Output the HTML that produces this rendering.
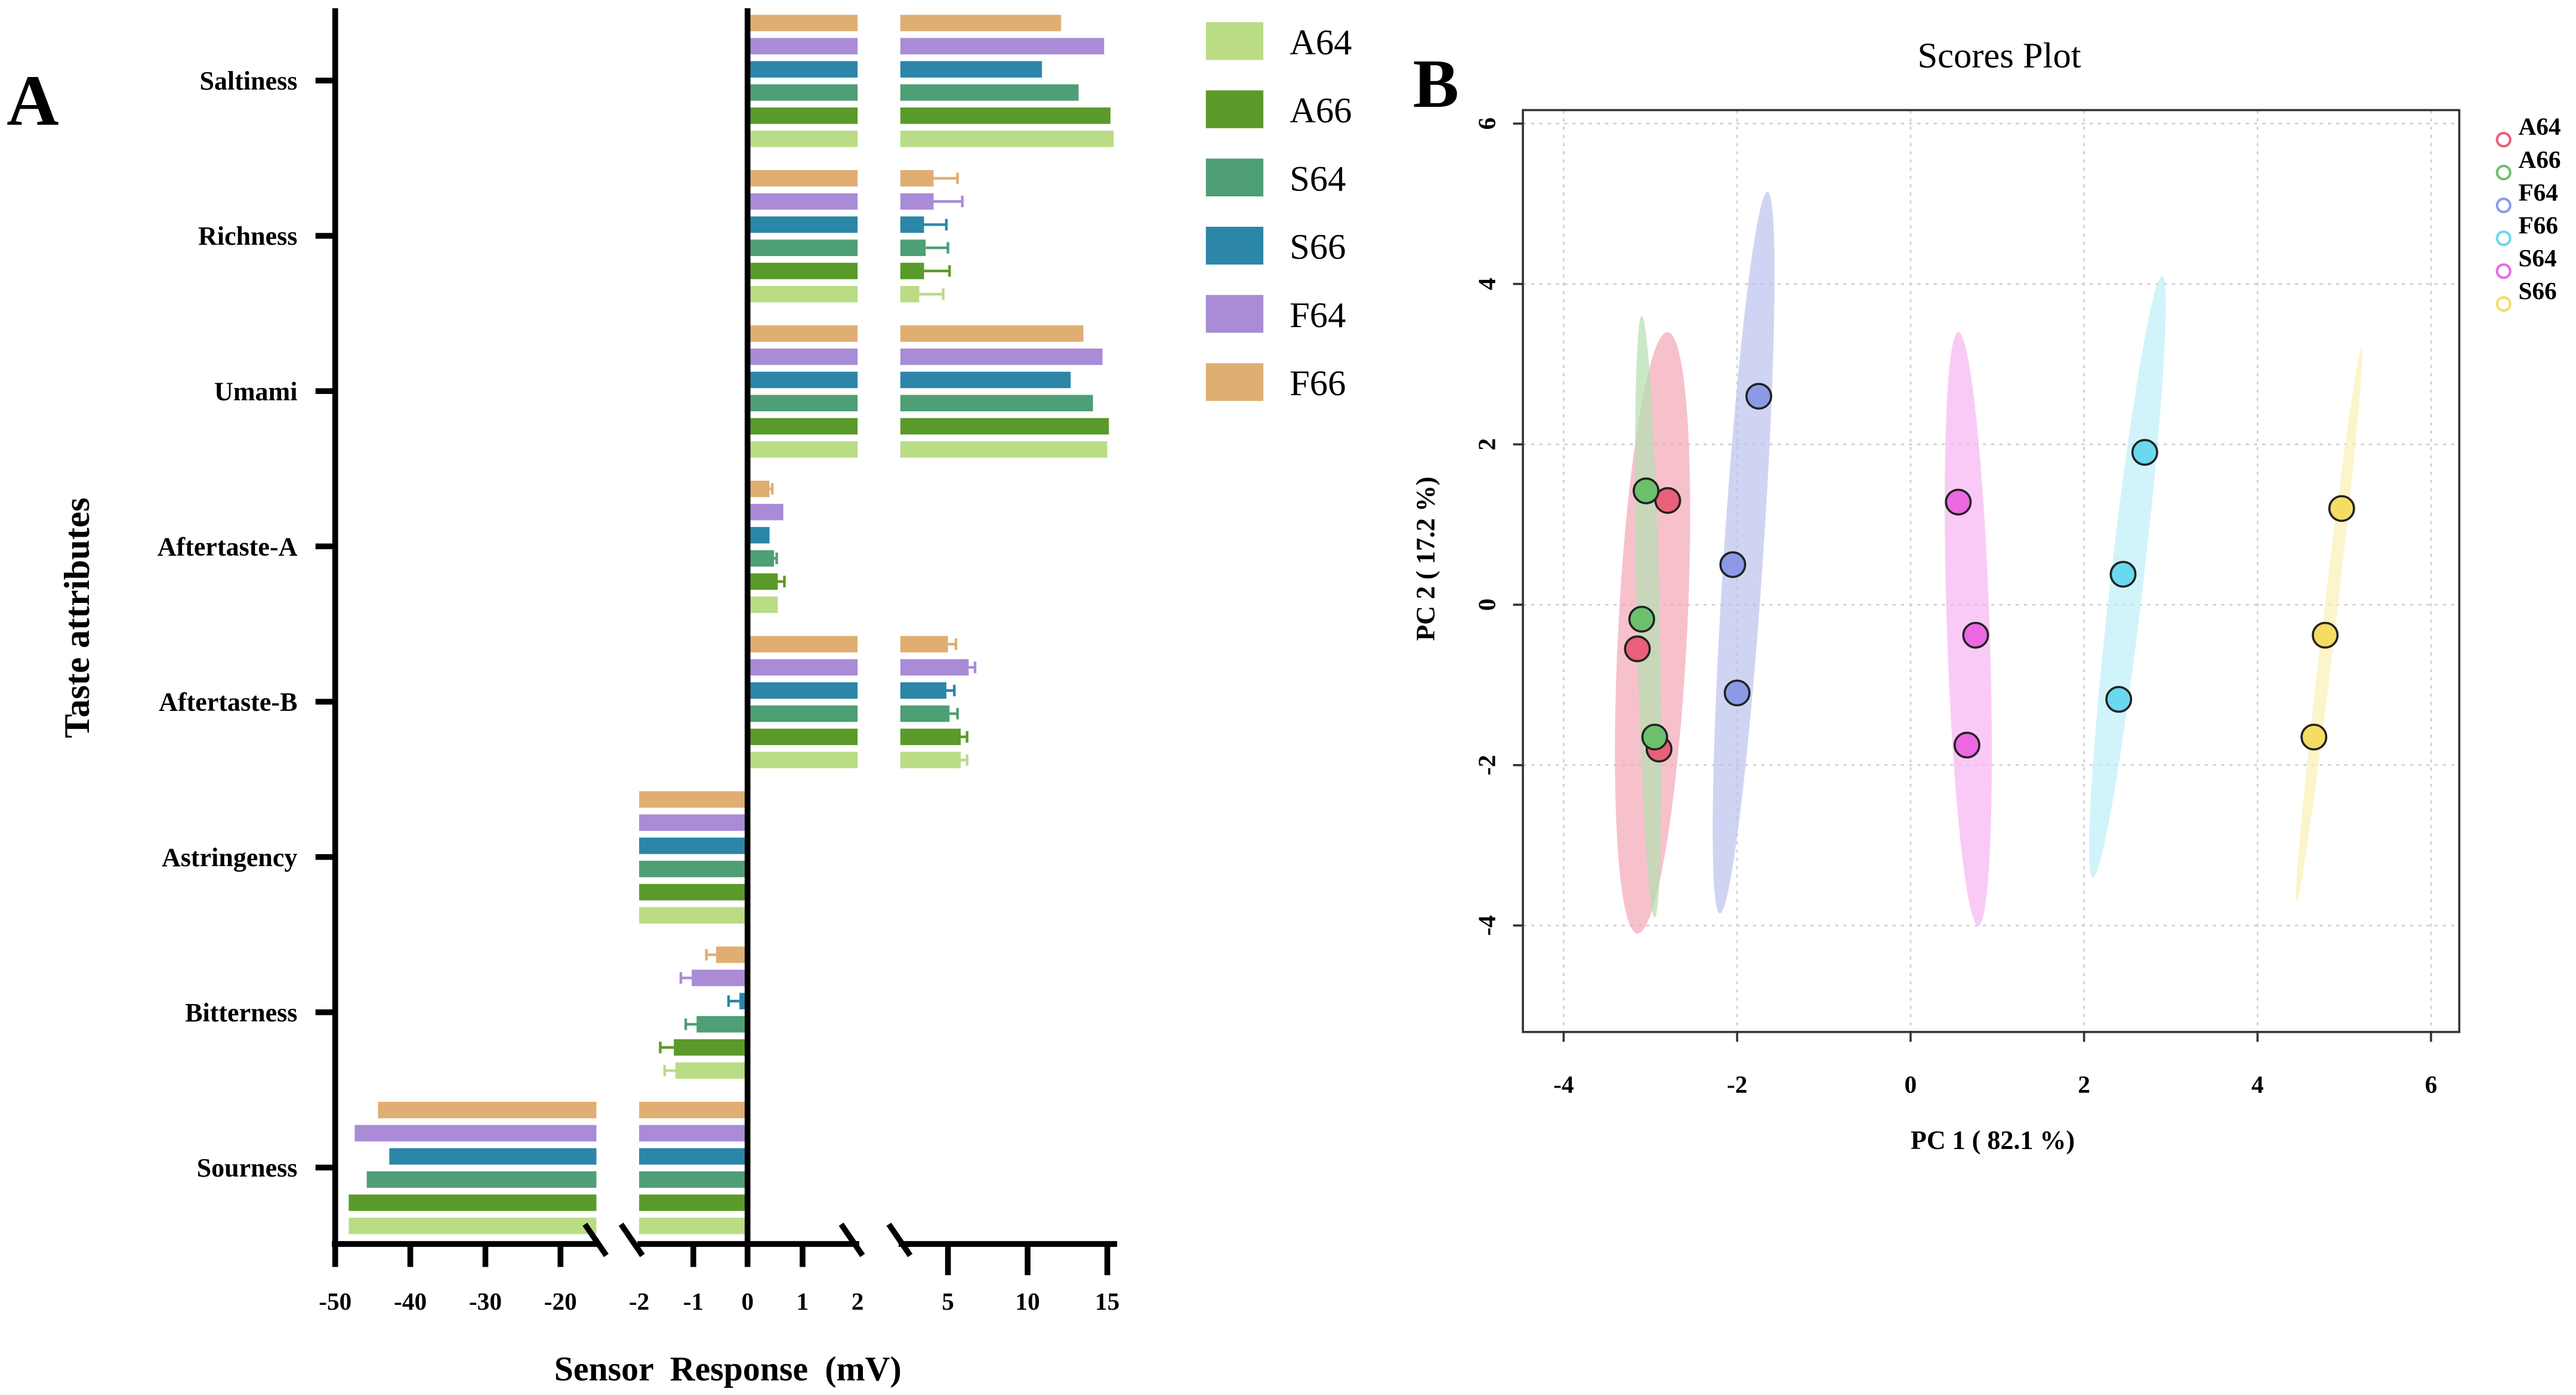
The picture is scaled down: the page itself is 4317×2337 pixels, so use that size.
<!DOCTYPE html>
<html><head><meta charset="utf-8"><style>
html,body{margin:0;padding:0;background:#fff;}
svg{display:block;}
svg text{font-family:"Liberation Serif","Times New Roman",serif;}
</style></head><body>
<svg id="fig" width="4317" height="2337" viewBox="0 0 1568 848.9" xmlns="http://www.w3.org/2000/svg" font-family="Liberation Serif, serif">
<rect width="1568" height="849" fill="#fff"/>
<g id="pa"></g>
<g id="pb"></g>
</svg>
<script>
// ---------- Panel A data ----------
const categories = ["Saltiness","Richness","Umami","Aftertaste-A","Aftertaste-B","Astringency","Bitterness","Sourness"];
const seriesNames = ["A64","A66","S64","S66","F64","F66"];
const valA64 = [15.4,3.2,15.0,0.55,5.8,-2,-1.33,-48.2];
const valA66 = [15.2,3.5,15.1,0.55,5.8,-2,-1.36,-48.2];
const valS64 = [13.2,3.6,14.1,0.48,5.1,-2,-0.94,-45.8];
const valS66 = [10.9,3.5,12.7,0.4,4.9,-2,-0.15,-42.8];
const valF64 = [14.8,4.1,14.7,0.65,6.3,-2,-1.03,-47.4];
const valF66 = [12.1,4.1,13.5,0.4,5.0,-2,-0.58,-44.3];
const errA64 = [0,1.5,0,0,0.4,0,0.2,0];
const errA66 = [0,1.6,0,0.12,0.4,0,0.25,0];
const errS64 = [0,1.4,0,0.05,0.5,0,0.2,0];
const errS66 = [0,1.4,0,0,0.5,0,0.2,0];
const errF64 = [0,1.8,0,0,0.4,0,0.2,0];
const errF66 = [0,1.5,0,0.05,0.5,0,0.18,0];
const xTicksA = ["-50","-40","-30","-20","-2","-1","0","1","2","5","10","15"];
const xTickValsA = [-50,-40,-30,-20,-2,-1,0,1,2,5,10,15];

// ---------- Panel B data ----------
const groups = ["A64","A66","F64","F66","S64","S66"];
const pcx = [[-2.8,-3.15,-2.9],[-3.05,-3.1,-2.95],[-1.75,-2.05,-2.0],[2.7,2.45,2.4],[0.55,0.75,0.65],[4.97,4.78,4.65]];
const pcy = [[1.3,-0.55,-1.8],[1.42,-0.18,-1.65],[2.6,0.5,-1.1],[1.9,0.38,-1.18],[1.28,-0.38,-1.75],[1.2,-0.38,-1.65]];
const ellTop = [[-2.8,3.4],[-3.1,3.6],[-1.65,5.15],[2.9,4.1],[0.55,3.4],[5.2,3.2]];
const ellBot = [[-3.15,-4.1],[-2.95,-3.9],[-2.2,-3.85],[2.1,-3.4],[0.78,-4.0],[4.45,-3.7]];
const xTicksB = [-4,-2,0,2,4,6];
const yTicksB = [-4,-2,0,2,4,6];

const NS="http://www.w3.org/2000/svg";
const FF="Liberation Serif, Times New Roman, serif";
function mk(parent,tag,attrs,text){const e=document.createElementNS(NS,tag);for(const k in attrs)e.setAttribute(k,attrs[k]);if(tag==='text')e.setAttribute('font-family',FF);if(text!==undefined)e.textContent=text;parent.appendChild(e);return e;}

// ===== Panel A =====
const pa=document.getElementById('pa');
const colors={A64:"#b9dc85",A66:"#5a9a2a",S64:"#4e9e76",S66:"#2b86a8",F64:"#a98bd6",F66:"#e0ae72"};
const vals={A64:valA64,A66:valA66,S64:valS64,S66:valS66,F64:valF64,F66:valF66};
const errs={A64:errA64,A66:errA66,S64:errS64,S66:errS66,F64:errF64,F66:errF66};
function xA(v){
  if(v<=-15) return 204+(v+50)*4.571;
  if(v<=0 && v>=-2) return 455+v*33;
  if(v>=0 && v<=2) return 455+v*33.5;
  if(v>2) return 577+(v-5)*9.7;
  return null;
}
const yCat=i=>49+i*94.5;
const order=["F66","F64","S66","S64","A66","A64"];
categories.forEach((c,i)=>{
  const cy=yCat(i);
  order.forEach((s,j)=>{
    const v=vals[s][i], e=errs[s][i];
    const y=cy-35+j*14.1-5;
    const col=colors[s];
    const segs=[];
    if(v>0){ segs.push([455,xA(Math.min(v,2))]); if(v>2) segs.push([548,xA(v)]); }
    else { segs.push([xA(Math.max(v,-2)),455]); if(v<-15) segs.push([xA(v),363]); }
    segs.forEach(sg=>{
      const r=mk(pa,'rect',{x:sg[0],y:y,width:Math.max(0,sg[1]-sg[0]),height:10,fill:col});
      
      
    });
    if(e>0){
      const x1=xA(v), x2=xA(v>0?v+e:v-e);
      const g=mk(pa,'g',{stroke:col,'stroke-width':1.6});
      
      
      mk(g,'line',{x1:x1,y1:y+5,x2:x2,y2:y+5});
      mk(g,'line',{x1:x2,y1:y+1.5,x2:x2,y2:y+8.5});
    }
  });
  const t=mk(pa,'text',{x:181,y:cy+5.5,'text-anchor':'end','font-size':16,'font-weight':'bold'},c);
  
  
  mk(pa,'line',{x1:192,y1:cy,x2:204,y2:cy,stroke:'#000','stroke-width':3.5});
});
const ax=mk(pa,'g',{stroke:'#000','stroke-width':3.5,fill:'none'});


mk(ax,'line',{x1:204,y1:5,x2:204,y2:759});
mk(ax,'line',{x1:455,y1:5,x2:455,y2:759});
mk(ax,'line',{x1:202,y1:757,x2:364,y2:757});
mk(ax,'line',{x1:388,y1:757,x2:523,y2:757});
mk(ax,'line',{x1:547,y1:757,x2:680,y2:757});
[[356,745,369,764],[378,745,391,764],[512,745,525,764],[541,745,554,764]].forEach(b=>mk(ax,'line',{x1:b[0],y1:b[1],x2:b[2],y2:b[3]}));
xTickValsA.forEach((v,k)=>{
  const x=xA(v);
  if(v!==-2 && v!==2) mk(ax,'line',{x1:x,y1:757,x2:x,y2:v>2?776:771});
  const t=mk(pa,'text',{x:x,y:797,'text-anchor':'middle','font-size':15,'font-weight':'bold'},xTicksA[k]);
  
  
});
mk(pa,'text',{x:443,y:840,'text-anchor':'middle','font-size':21,'font-weight':'bold','word-spacing':'5'},"Sensor Response (mV)");
mk(pa,'text',{x:0,y:0,transform:'translate(54,376) rotate(-90)','text-anchor':'middle','font-size':22,'font-weight':'bold'},"Taste attributes");
mk(pa,'text',{x:4,y:76,'font-size':44,'font-weight':'bold'},"A");
seriesNames.forEach((s,i)=>{
  const y=25+i*41.5;
  const g=mk(pa,'g',{});
  
  
  mk(g,'rect',{x:734,y:y-11.5,width:35,height:23,fill:colors[s]});
  mk(g,'text',{x:785,y:y+8,'font-size':22},s);
});

// ===== Panel B =====
const pb=document.getElementById('pb');
const xB=v=>1163+v*52.8, yB=v=>368-v*48.8;
const gcol=["#e8607a","#6cc06c","#8c9ae6","#6ad8ef","#ec68e2","#f5dc62"];
const efill=["#f4a6b6","#b4deb0","#bcc2ee","#bdeef8","#f8b4f2","#fbefb4"];
mk(pb,'text',{x:1217,y:41,'text-anchor':'middle','font-size':22},"Scores Plot");
mk(pb,'text',{x:860,y:65,'font-size':42,'font-weight':'bold'},"B");
const grid=mk(pb,'g',{stroke:'#d0d0d0','stroke-width':1,'stroke-dasharray':'2,3'});


xTicksB.forEach(v=>mk(grid,'line',{x1:xB(v),y1:67,x2:xB(v),y2:628}));
yTicksB.forEach(v=>mk(grid,'line',{x1:927,y1:yB(v),x2:1497,y2:yB(v)}));
groups.forEach((g,i)=>{
  const x1=xB(ellTop[i][0]),y1=yB(ellTop[i][1]),x2=xB(ellBot[i][0]),y2=yB(ellBot[i][1]);
  const cx=(x1+x2)/2, cy=(y1+y2)/2, len=Math.hypot(x2-x1,y2-y1)/2;
  const ang=Math.atan2(x2-x1,y2-y1)*180/Math.PI;
  const w=[21,7,12,10,13,4][i];
  const e=mk(pb,'ellipse',{cx:cx,cy:cy,rx:w,ry:len,fill:efill[i],'fill-opacity':0.7,transform:`rotate(${-ang} ${cx} ${cy})`});
  
  
});
groups.forEach((g,i)=>{
  pcx[i].forEach((px,k)=>{
    const c=mk(pb,'circle',{cx:xB(px),cy:yB(pcy[i][k]),r:7.5,fill:gcol[i],stroke:'#222','stroke-width':1.3});
    
    
  });
});
const box=mk(pb,'rect',{x:927,y:67,width:570,height:561,fill:'none',stroke:'#333','stroke-width':1.3});


xTicksB.forEach(v=>{
  mk(pb,'line',{x1:xB(v),y1:628,x2:xB(v),y2:634,stroke:'#333','stroke-width':1.3});
  const t=mk(pb,'text',{x:xB(v),y:665,'text-anchor':'middle','font-size':15,'font-weight':'bold'},String(v));
  
  
});
yTicksB.forEach(v=>{
  mk(pb,'line',{x1:921,y1:yB(v),x2:927,y2:yB(v),stroke:'#333','stroke-width':1.3});
  const t=mk(pb,'text',{x:0,y:0,transform:`translate(910,${yB(v)}) rotate(-90)`,'text-anchor':'middle','font-size':15,'font-weight':'bold'},String(v));
  
  
});
mk(pb,'text',{x:1213,y:699,'text-anchor':'middle','font-size':16,'font-weight':'bold'},"PC 1 ( 82.1 %)");
mk(pb,'text',{x:0,y:0,transform:'translate(873,340) rotate(-90)','text-anchor':'middle','font-size':16,'font-weight':'bold'},"PC 2 ( 17.2 %)");
groups.forEach((g,i)=>{
  const y=82+i*20;
  const lg=mk(pb,'g',{});
  
  
  mk(lg,'circle',{cx:1524,cy:y+3,r:4,fill:'none',stroke:gcol[i],'stroke-width':1.5});
  mk(lg,'text',{x:1533,y:y,'font-size':15,'font-weight':'bold'},g);
});
</script>
</body></html>
